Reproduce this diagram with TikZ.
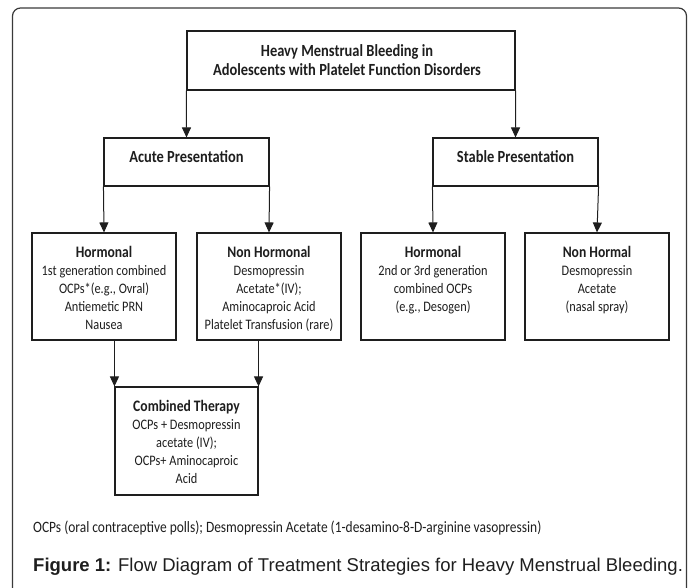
\documentclass[tikz,border=0pt]{standalone}
\usepackage{fontspec}
\setmainfont{Carlito}[FakeStretch=0.85]
\newfontfamily\capfont{Liberation Sans}
\usetikzlibrary{arrows.meta}
\definecolor{ink}{HTML}{1E1E1E}
\definecolor{framec}{HTML}{3A3A3A}
\tikzset{
  boxc/.style={draw=ink, line width=1.1pt, inner sep=0pt, fill=white},
  txt/.style={inner sep=0pt, align=center, text=ink, font=\fontsize{14.5}{18}\selectfont},
  head/.style={inner sep=0pt, align=center, text=ink, font=\bfseries\fontsize{17}{19}\selectfont},
  arr/.style={draw=ink, line width=1pt, -{Triangle[length=10pt,width=9pt]}},
}
\newcommand{\bhead}[1]{{\bfseries\fontsize{16}{18}\selectfont #1}}
\begin{document}
\begin{tikzpicture}[x=1pt,y=-1pt]
\useasboundingbox (0,0) rectangle (695,587);
\clip (0,0) rectangle (695,587);
\draw[framec, line width=1.2pt, rounded corners=8pt] (12.5,8) rectangle (686.5,640);

% top
\node[boxc, minimum width=328pt, minimum height=59pt] (top) at (351,60.5) {};
\node[head] (toptxt) at ([xshift=-4pt]top.center) {Heavy Menstrual Bleeding in\\Adolescents with Platelet Function Disorders};

% level 2
\node[boxc, minimum width=165pt, minimum height=48pt] (acute) at (186.5,162) {};
\node[head] (acutetxt) at ([yshift=5pt]acute.center) {Acute Presentation};
\node[boxc, minimum width=165pt, minimum height=48pt] (stable) at (515.5,162) {};
\node[head] (stabletxt) at ([yshift=5pt]stable.center) {Stable Presentation};

% level 3
\node[boxc, minimum width=144pt, minimum height=107pt] (hA) at (104,286.5) {};
\node[boxc, minimum width=144pt, minimum height=107pt] (nA) at (269,286.5) {};
\node[boxc, minimum width=144pt, minimum height=107pt] (hS) at (433,286.5) {};
\node[boxc, minimum width=144pt, minimum height=107pt] (nS) at (597,286.5) {};

\node[txt, anchor=north] (hAt) at ([yshift=-13.5pt]hA.north) {\bhead{Hormonal}\\1st generation combined\\OCPs*(e.g., Ovral)\\Antiemetic PRN\\Nausea};
\node[txt, anchor=north] (nAt) at ([yshift=-13.5pt]nA.north) {\bhead{Non Hormonal}\\Desmopressin\\Acetate*(IV);\\Aminocaproic Acid\\Platelet Transfusion (rare)};
\node[txt, anchor=north] (hSt) at ([yshift=-13.5pt]hS.north) {\bhead{Hormonal}\\2nd or 3rd generation\\combined OCPs\\(e.g., Desogen)};
\node[txt, anchor=north] (nSt) at ([yshift=-13.5pt]nS.north) {\bhead{Non Hormal}\\Desmopressin\\Acetate\\(nasal spray)};

% combined
\node[boxc, minimum width=143pt, minimum height=108pt] (comb) at (186.5,441) {};
\node[txt, anchor=north] (combt) at ([yshift=-13.5pt]comb.north) {\bhead{Combined Therapy}\\OCPs + Desmopressin\\acetate (IV);\\OCPs+ Aminocaproic\\Acid};

% arrows
\draw[arr] (top.south west) -- (acute.north);
\draw[arr] (top.south east) -- (stable.north);
\draw[arr] (acute.south west) -- (hA.north);
\draw[arr] (acute.south east) -- (nA.north);
\draw[arr] (stable.south west) -- (hS.north);
\draw[arr] (stable.south east) -- (nS.north);
\draw[arr] (comb.north west |- hA.south) -- (comb.north west);
\draw[arr] (comb.north east |- nA.south) -- (comb.north east);

% notes
\node[inner sep=0pt, anchor=west, text=ink] (foot) at (33,528) {\fontsize{15.8}{18}\selectfont OCPs (oral contraceptive polls); Desmopressin Acetate (1-desamino-8-D-arginine vasopressin)};
\node[inner sep=0pt, anchor=west, text=ink] (cap) at (33,567) {\capfont\fontsize{18.5}{20}\selectfont\textbf{Figure 1:} Flow Diagram of Treatment Strategies for Heavy Menstrual Bleeding.};
\end{tikzpicture}
\end{document}
